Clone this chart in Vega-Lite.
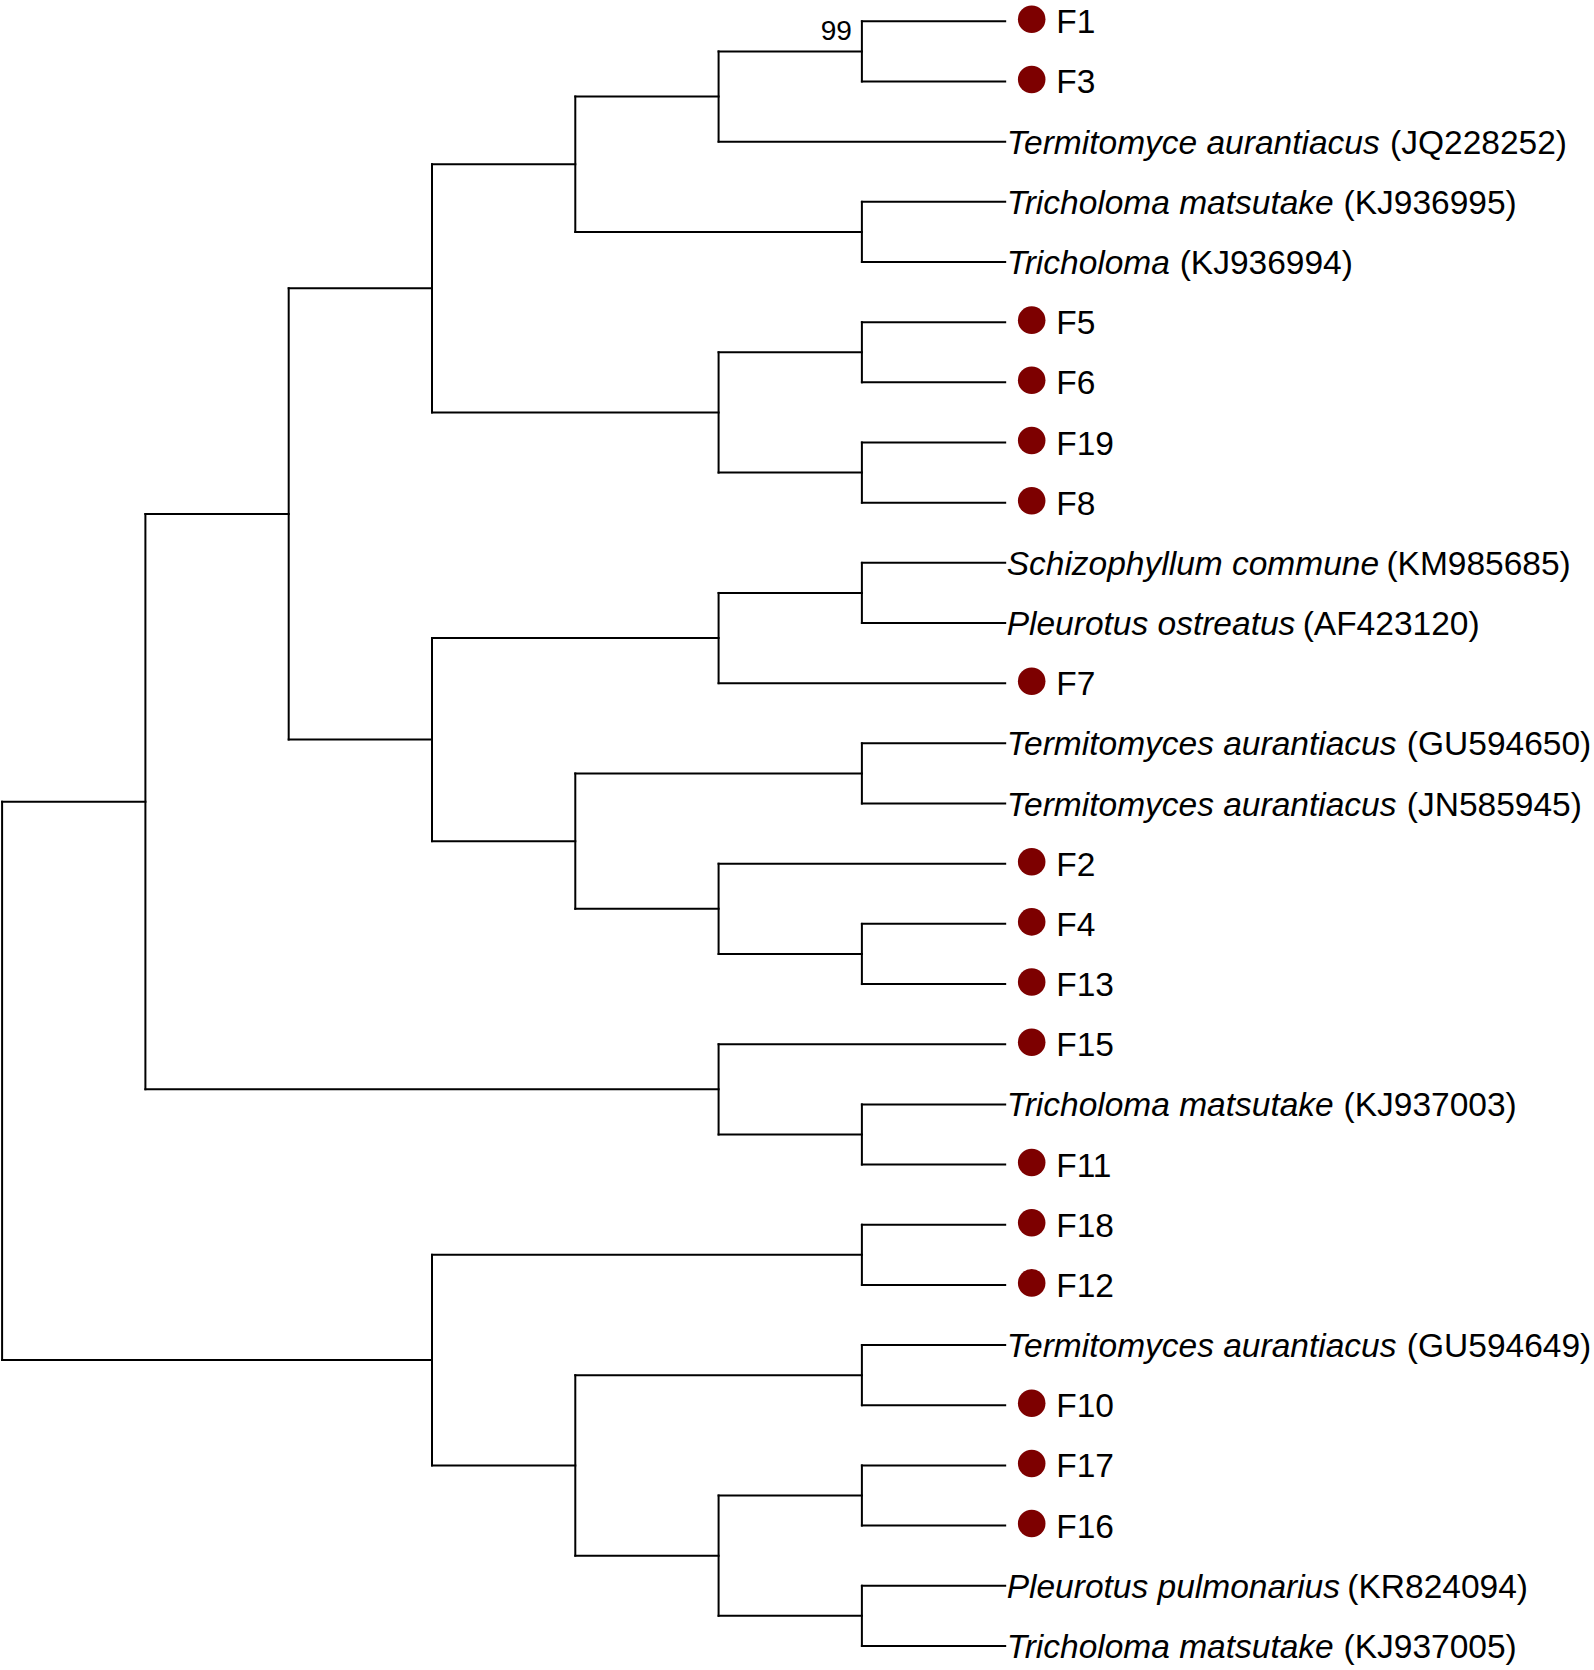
{
  "$schema": "https://vega.github.io/schema/vega-lite/v6.json",
  "width": 1594,
  "height": 1670,
  "autosize": {"type": "none"},
  "padding": 0,
  "background": "white",
  "config": {"view": {"stroke": null}},
  "datasets": {
    "segs": [
      {"x": 6, "x2": 7, "y": 0, "y2": 0},
      {"x": 6, "x2": 7, "y": 1, "y2": 1},
      {"x": 5, "x2": 7, "y": 2, "y2": 2},
      {"x": 6, "x2": 7, "y": 3, "y2": 3},
      {"x": 6, "x2": 7, "y": 4, "y2": 4},
      {"x": 6, "x2": 7, "y": 5, "y2": 5},
      {"x": 6, "x2": 7, "y": 6, "y2": 6},
      {"x": 6, "x2": 7, "y": 7, "y2": 7},
      {"x": 6, "x2": 7, "y": 8, "y2": 8},
      {"x": 6, "x2": 7, "y": 9, "y2": 9},
      {"x": 6, "x2": 7, "y": 10, "y2": 10},
      {"x": 5, "x2": 7, "y": 11, "y2": 11},
      {"x": 6, "x2": 7, "y": 12, "y2": 12},
      {"x": 6, "x2": 7, "y": 13, "y2": 13},
      {"x": 5, "x2": 7, "y": 14, "y2": 14},
      {"x": 6, "x2": 7, "y": 15, "y2": 15},
      {"x": 6, "x2": 7, "y": 16, "y2": 16},
      {"x": 5, "x2": 7, "y": 17, "y2": 17},
      {"x": 6, "x2": 7, "y": 18, "y2": 18},
      {"x": 6, "x2": 7, "y": 19, "y2": 19},
      {"x": 6, "x2": 7, "y": 20, "y2": 20},
      {"x": 6, "x2": 7, "y": 21, "y2": 21},
      {"x": 6, "x2": 7, "y": 22, "y2": 22},
      {"x": 6, "x2": 7, "y": 23, "y2": 23},
      {"x": 6, "x2": 7, "y": 24, "y2": 24},
      {"x": 6, "x2": 7, "y": 25, "y2": 25},
      {"x": 6, "x2": 7, "y": 26, "y2": 26},
      {"x": 6, "x2": 7, "y": 27, "y2": 27},
      {"x": 5, "x2": 6, "y": 0.5, "y2": 0.5},
      {"x": 4, "x2": 5, "y": 1.25, "y2": 1.25},
      {"x": 4, "x2": 6, "y": 3.5, "y2": 3.5},
      {"x": 3, "x2": 4, "y": 2.375, "y2": 2.375},
      {"x": 5, "x2": 6, "y": 5.5, "y2": 5.5},
      {"x": 5, "x2": 6, "y": 7.5, "y2": 7.5},
      {"x": 3, "x2": 5, "y": 6.5, "y2": 6.5},
      {"x": 2, "x2": 3, "y": 4.4375, "y2": 4.4375},
      {"x": 5, "x2": 6, "y": 9.5, "y2": 9.5},
      {"x": 3, "x2": 5, "y": 10.25, "y2": 10.25},
      {"x": 4, "x2": 6, "y": 12.5, "y2": 12.5},
      {"x": 5, "x2": 6, "y": 15.5, "y2": 15.5},
      {"x": 4, "x2": 5, "y": 14.75, "y2": 14.75},
      {"x": 3, "x2": 4, "y": 13.625, "y2": 13.625},
      {"x": 2, "x2": 3, "y": 11.9375, "y2": 11.9375},
      {"x": 1, "x2": 2, "y": 8.1875, "y2": 8.1875},
      {"x": 5, "x2": 6, "y": 18.5, "y2": 18.5},
      {"x": 1, "x2": 5, "y": 17.75, "y2": 17.75},
      {"x": 0, "x2": 1, "y": 12.96875, "y2": 12.96875},
      {"x": 3, "x2": 6, "y": 20.5, "y2": 20.5},
      {"x": 4, "x2": 6, "y": 22.5, "y2": 22.5},
      {"x": 5, "x2": 6, "y": 24.5, "y2": 24.5},
      {"x": 5, "x2": 6, "y": 26.5, "y2": 26.5},
      {"x": 4, "x2": 5, "y": 25.5, "y2": 25.5},
      {"x": 3, "x2": 4, "y": 24, "y2": 24},
      {"x": 0, "x2": 3, "y": 22.25, "y2": 22.25},
      {"x": 6, "x2": 6, "y": 0, "y2": 1},
      {"x": 5, "x2": 5, "y": 0.5, "y2": 2},
      {"x": 6, "x2": 6, "y": 3, "y2": 4},
      {"x": 4, "x2": 4, "y": 1.25, "y2": 3.5},
      {"x": 6, "x2": 6, "y": 5, "y2": 6},
      {"x": 6, "x2": 6, "y": 7, "y2": 8},
      {"x": 5, "x2": 5, "y": 5.5, "y2": 7.5},
      {"x": 3, "x2": 3, "y": 2.375, "y2": 6.5},
      {"x": 6, "x2": 6, "y": 9, "y2": 10},
      {"x": 5, "x2": 5, "y": 9.5, "y2": 11},
      {"x": 6, "x2": 6, "y": 12, "y2": 13},
      {"x": 6, "x2": 6, "y": 15, "y2": 16},
      {"x": 5, "x2": 5, "y": 14, "y2": 15.5},
      {"x": 4, "x2": 4, "y": 12.5, "y2": 14.75},
      {"x": 3, "x2": 3, "y": 10.25, "y2": 13.625},
      {"x": 2, "x2": 2, "y": 4.4375, "y2": 11.9375},
      {"x": 6, "x2": 6, "y": 18, "y2": 19},
      {"x": 5, "x2": 5, "y": 17, "y2": 18.5},
      {"x": 1, "x2": 1, "y": 8.1875, "y2": 17.75},
      {"x": 6, "x2": 6, "y": 20, "y2": 21},
      {"x": 6, "x2": 6, "y": 22, "y2": 23},
      {"x": 6, "x2": 6, "y": 24, "y2": 25},
      {"x": 6, "x2": 6, "y": 26, "y2": 27},
      {"x": 5, "x2": 5, "y": 24.5, "y2": 26.5},
      {"x": 4, "x2": 4, "y": 22.5, "y2": 25.5},
      {"x": 3, "x2": 3, "y": 20.5, "y2": 24},
      {"x": 0, "x2": 0, "y": 12.96875, "y2": 22.25}
    ],
    "leaves": [
      {"i": 0, "kind": "isolate", "label": "F1"},
      {"i": 1, "kind": "isolate", "label": "F3"},
      {"i": 2, "kind": "ref", "name": "Termitomyce aurantiacus", "acc": "JQ228252"},
      {"i": 3, "kind": "ref", "name": "Tricholoma matsutake", "acc": "KJ936995"},
      {"i": 4, "kind": "ref", "name": "Tricholoma", "acc": "KJ936994"},
      {"i": 5, "kind": "isolate", "label": "F5"},
      {"i": 6, "kind": "isolate", "label": "F6"},
      {"i": 7, "kind": "isolate", "label": "F19"},
      {"i": 8, "kind": "isolate", "label": "F8"},
      {"i": 9, "kind": "ref", "name": "Schizophyllum commune", "acc": "KM985685"},
      {"i": 10, "kind": "ref", "name": "Pleurotus ostreatus", "acc": "AF423120"},
      {"i": 11, "kind": "isolate", "label": "F7"},
      {"i": 12, "kind": "ref", "name": "Termitomyces aurantiacus", "acc": "GU594650"},
      {"i": 13, "kind": "ref", "name": "Termitomyces aurantiacus", "acc": "JN585945"},
      {"i": 14, "kind": "isolate", "label": "F2"},
      {"i": 15, "kind": "isolate", "label": "F4"},
      {"i": 16, "kind": "isolate", "label": "F13"},
      {"i": 17, "kind": "isolate", "label": "F15"},
      {"i": 18, "kind": "ref", "name": "Tricholoma matsutake", "acc": "KJ937003"},
      {"i": 19, "kind": "isolate", "label": "F11"},
      {"i": 20, "kind": "isolate", "label": "F18"},
      {"i": 21, "kind": "isolate", "label": "F12"},
      {"i": 22, "kind": "ref", "name": "Termitomyces aurantiacus", "acc": "GU594649"},
      {"i": 23, "kind": "isolate", "label": "F10"},
      {"i": 24, "kind": "isolate", "label": "F17"},
      {"i": 25, "kind": "isolate", "label": "F16"},
      {"i": 26, "kind": "ref", "name": "Pleurotus pulmonarius", "acc": "KR824094"},
      {"i": 27, "kind": "ref", "name": "Tricholoma matsutake", "acc": "KJ937005"}
    ],
    "support": [
      {"x": 6, "y": 0.5, "value": "99"}
    ]
  },
  "layer": [
    {
      "data": {"name": "leaves"},
      "transform": [
        {"filter": "datum.kind === 'ref'"},
        {"calculate": "'(' + datum.acc + ')'", "as": "accLabel"}
      ],
      "mark": {
        "type": "text", "align": "left", "baseline": "alphabetic", "dy": 12,
        "font": "Liberation Sans", "fontSize": 33.5, "fill": "#000000",
        "dx": {"expr": "1.5 + 33.5 * (0.22 + 0.556*length(datum.name) - 0.334*(length(datum.name)-length(replace(datum.name, regexp('[ilj]','g'), ''))) - 0.278*(length(datum.name)-length(replace(datum.name, regexp('[ft ]','g'), ''))) - 0.223*(length(datum.name)-length(replace(datum.name, regexp('r','g'), ''))) - 0.056*(length(datum.name)-length(replace(datum.name, regexp('[cksvxyz]','g'), ''))) + 0.277*(length(datum.name)-length(replace(datum.name, regexp('m','g'), ''))) + 0.166*(length(datum.name)-length(replace(datum.name, regexp('w','g'), ''))) + 0.055*(length(datum.name)-length(replace(datum.name, regexp('T','g'), ''))) + 0.111*(length(datum.name)-length(replace(datum.name, regexp('[SP]','g'), ''))))"}
      },
      "encoding": {
        "x": {"datum": 7, "type": "quantitative", "scale": {"domain": [-0.01465, 11.109], "nice": false, "zero": false}, "axis": null},
        "y": {"field": "i", "type": "quantitative", "scale": {"domain": [-0.354, 27.40], "nice": false, "zero": false, "reverse": true}, "axis": null},
        "text": {"field": "accLabel"}
      }
    },
    {
      "data": {"name": "leaves"},
      "transform": [{"filter": "datum.kind === 'ref'"}],
      "mark": {"type": "text", "align": "left", "baseline": "alphabetic", "dx": 1.5, "dy": 12, "font": "Liberation Sans", "fontSize": 33.5, "fontStyle": "italic", "fill": "#000000"},
      "encoding": {
        "x": {"datum": 7, "type": "quantitative", "scale": {"domain": [-0.01465, 11.109], "nice": false, "zero": false}, "axis": null},
        "y": {"field": "i", "type": "quantitative", "scale": {"domain": [-0.354, 27.40], "nice": false, "zero": false, "reverse": true}, "axis": null},
        "text": {"field": "name"}
      }
    },
    {
      "data": {"name": "leaves"},
      "transform": [{"filter": "datum.kind === 'isolate'"}],
      "mark": {"type": "text", "align": "left", "baseline": "alphabetic", "dx": 51, "dy": 12, "font": "Liberation Sans", "fontSize": 33.5, "fill": "#000000"},
      "encoding": {
        "x": {"datum": 7, "type": "quantitative", "scale": {"domain": [-0.01465, 11.109], "nice": false, "zero": false}, "axis": null},
        "y": {"field": "i", "type": "quantitative", "scale": {"domain": [-0.354, 27.40], "nice": false, "zero": false, "reverse": true}, "axis": null},
        "text": {"field": "label"}
      }
    },
    {
      "data": {"name": "leaves"},
      "transform": [{"filter": "datum.kind === 'isolate'"}],
      "mark": {"type": "point", "shape": "circle", "filled": true, "color": "#7d0000", "opacity": 1, "size": 760, "xOffset": 26.5, "yOffset": -2},
      "encoding": {
        "x": {"datum": 7, "type": "quantitative", "scale": {"domain": [-0.01465, 11.109], "nice": false, "zero": false}, "axis": null},
        "y": {"field": "i", "type": "quantitative", "scale": {"domain": [-0.354, 27.40], "nice": false, "zero": false, "reverse": true}, "axis": null}
      }
    },
    {
      "data": {"name": "support"},
      "mark": {"type": "text", "align": "right", "baseline": "alphabetic", "dx": -10, "dy": -11, "font": "Liberation Sans", "fontSize": 28, "fill": "#000000"},
      "encoding": {
        "x": {"field": "x", "type": "quantitative", "scale": {"domain": [-0.01465, 11.109], "nice": false, "zero": false}, "axis": null},
        "y": {"field": "y", "type": "quantitative", "scale": {"domain": [-0.354, 27.40], "nice": false, "zero": false, "reverse": true}, "axis": null},
        "text": {"field": "value"}
      }
    },
    {
      "data": {"name": "segs"},
      "mark": {"type": "rule", "color": "#000000", "strokeWidth": 2, "strokeCap": "square"},
      "encoding": {
        "x": {"field": "x", "type": "quantitative", "scale": {"domain": [-0.01465, 11.109], "nice": false, "zero": false}, "axis": null},
        "x2": {"field": "x2"},
        "y": {"field": "y", "type": "quantitative", "scale": {"domain": [-0.354, 27.40], "nice": false, "zero": false, "reverse": true}, "axis": null},
        "y2": {"field": "y2"}
      }
    }
  ]
}
